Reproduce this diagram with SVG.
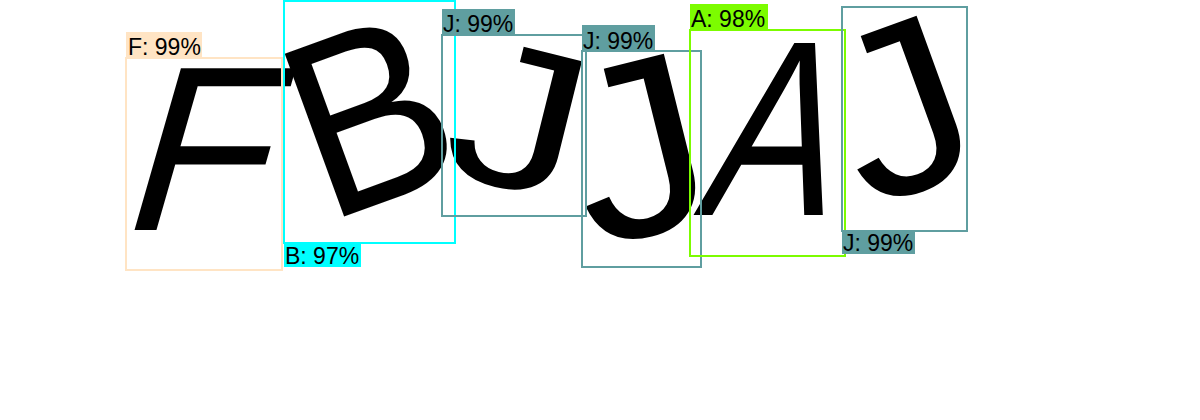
<svg xmlns="http://www.w3.org/2000/svg" width="1200" height="420" viewBox="0 0 1200 420">
<style>
.glyph{font-family:"Liberation Sans",Arial,sans-serif;fill:#000;text-anchor:middle}
.box{fill:none;stroke-width:2}
.lbl{font-family:"Liberation Sans",Arial,sans-serif;font-size:23px;fill:#000}
</style>
<rect width="1200" height="420" fill="#fff"/>
<g id="scene">
<text class="glyph" font-size="235" transform="translate(211,146) skewX(-16)" y="84">F</text>
<text class="glyph" font-size="252" transform="translate(368,112) rotate(-20) scale(0.92,1)" y="90">B</text>
<text class="glyph" font-size="205" transform="translate(520,116) rotate(14) scale(1.3,1)" y="73">J</text>
<text class="glyph" font-size="250" transform="translate(637,146) rotate(-14) scale(1.1,1)" y="89">J</text>
<text class="glyph" font-size="250" transform="translate(782,126) skewX(-15) scale(0.78,1)" y="89">A</text>
<text class="glyph" font-size="240" transform="translate(900,106) rotate(-20) scale(1.1,1)" y="86">J</text>
</g>
<g id="det-F">
<rect class="box" x="126" y="58" width="156" height="212" stroke="#FFE4C4"/>
<rect x="126" y="32" width="76" height="25" fill="#FFE4C4"/>
<text class="lbl" x="128" y="55">F: 99%</text>
</g>
<g id="det-B">
<rect class="box" x="284" y="1" width="171" height="242" stroke="#00FFFF"/>
<rect x="284" y="243" width="77" height="24" fill="#00FFFF"/>
<text class="lbl" x="285" y="264">B: 97%</text>
</g>
<g id="det-J1">
<rect class="box" x="442" y="35" width="144" height="181" stroke="#5F9EA0"/>
<rect x="442" y="9" width="73" height="25" fill="#5F9EA0"/>
<text class="lbl" x="443" y="32">J: 99%</text>
</g>
<g id="det-J2">
<rect class="box" x="582" y="51" width="119" height="216" stroke="#5F9EA0"/>
<rect x="582" y="25" width="73" height="26" fill="#5F9EA0"/>
<text class="lbl" x="583" y="49">J: 99%</text>
</g>
<g id="det-A">
<rect class="box" x="690" y="30" width="155" height="226" stroke="#7CFC00"/>
<rect x="690" y="4" width="78" height="26" fill="#7CFC00"/>
<text class="lbl" x="691" y="27">A: 98%</text>
</g>
<g id="det-J3">
<rect class="box" x="842" y="7" width="125" height="224" stroke="#5F9EA0"/>
<rect x="842" y="231" width="73" height="23" fill="#5F9EA0"/>
<text class="lbl" x="843" y="251">J: 99%</text>
</g>
<g id="connectors"/>
</svg>
